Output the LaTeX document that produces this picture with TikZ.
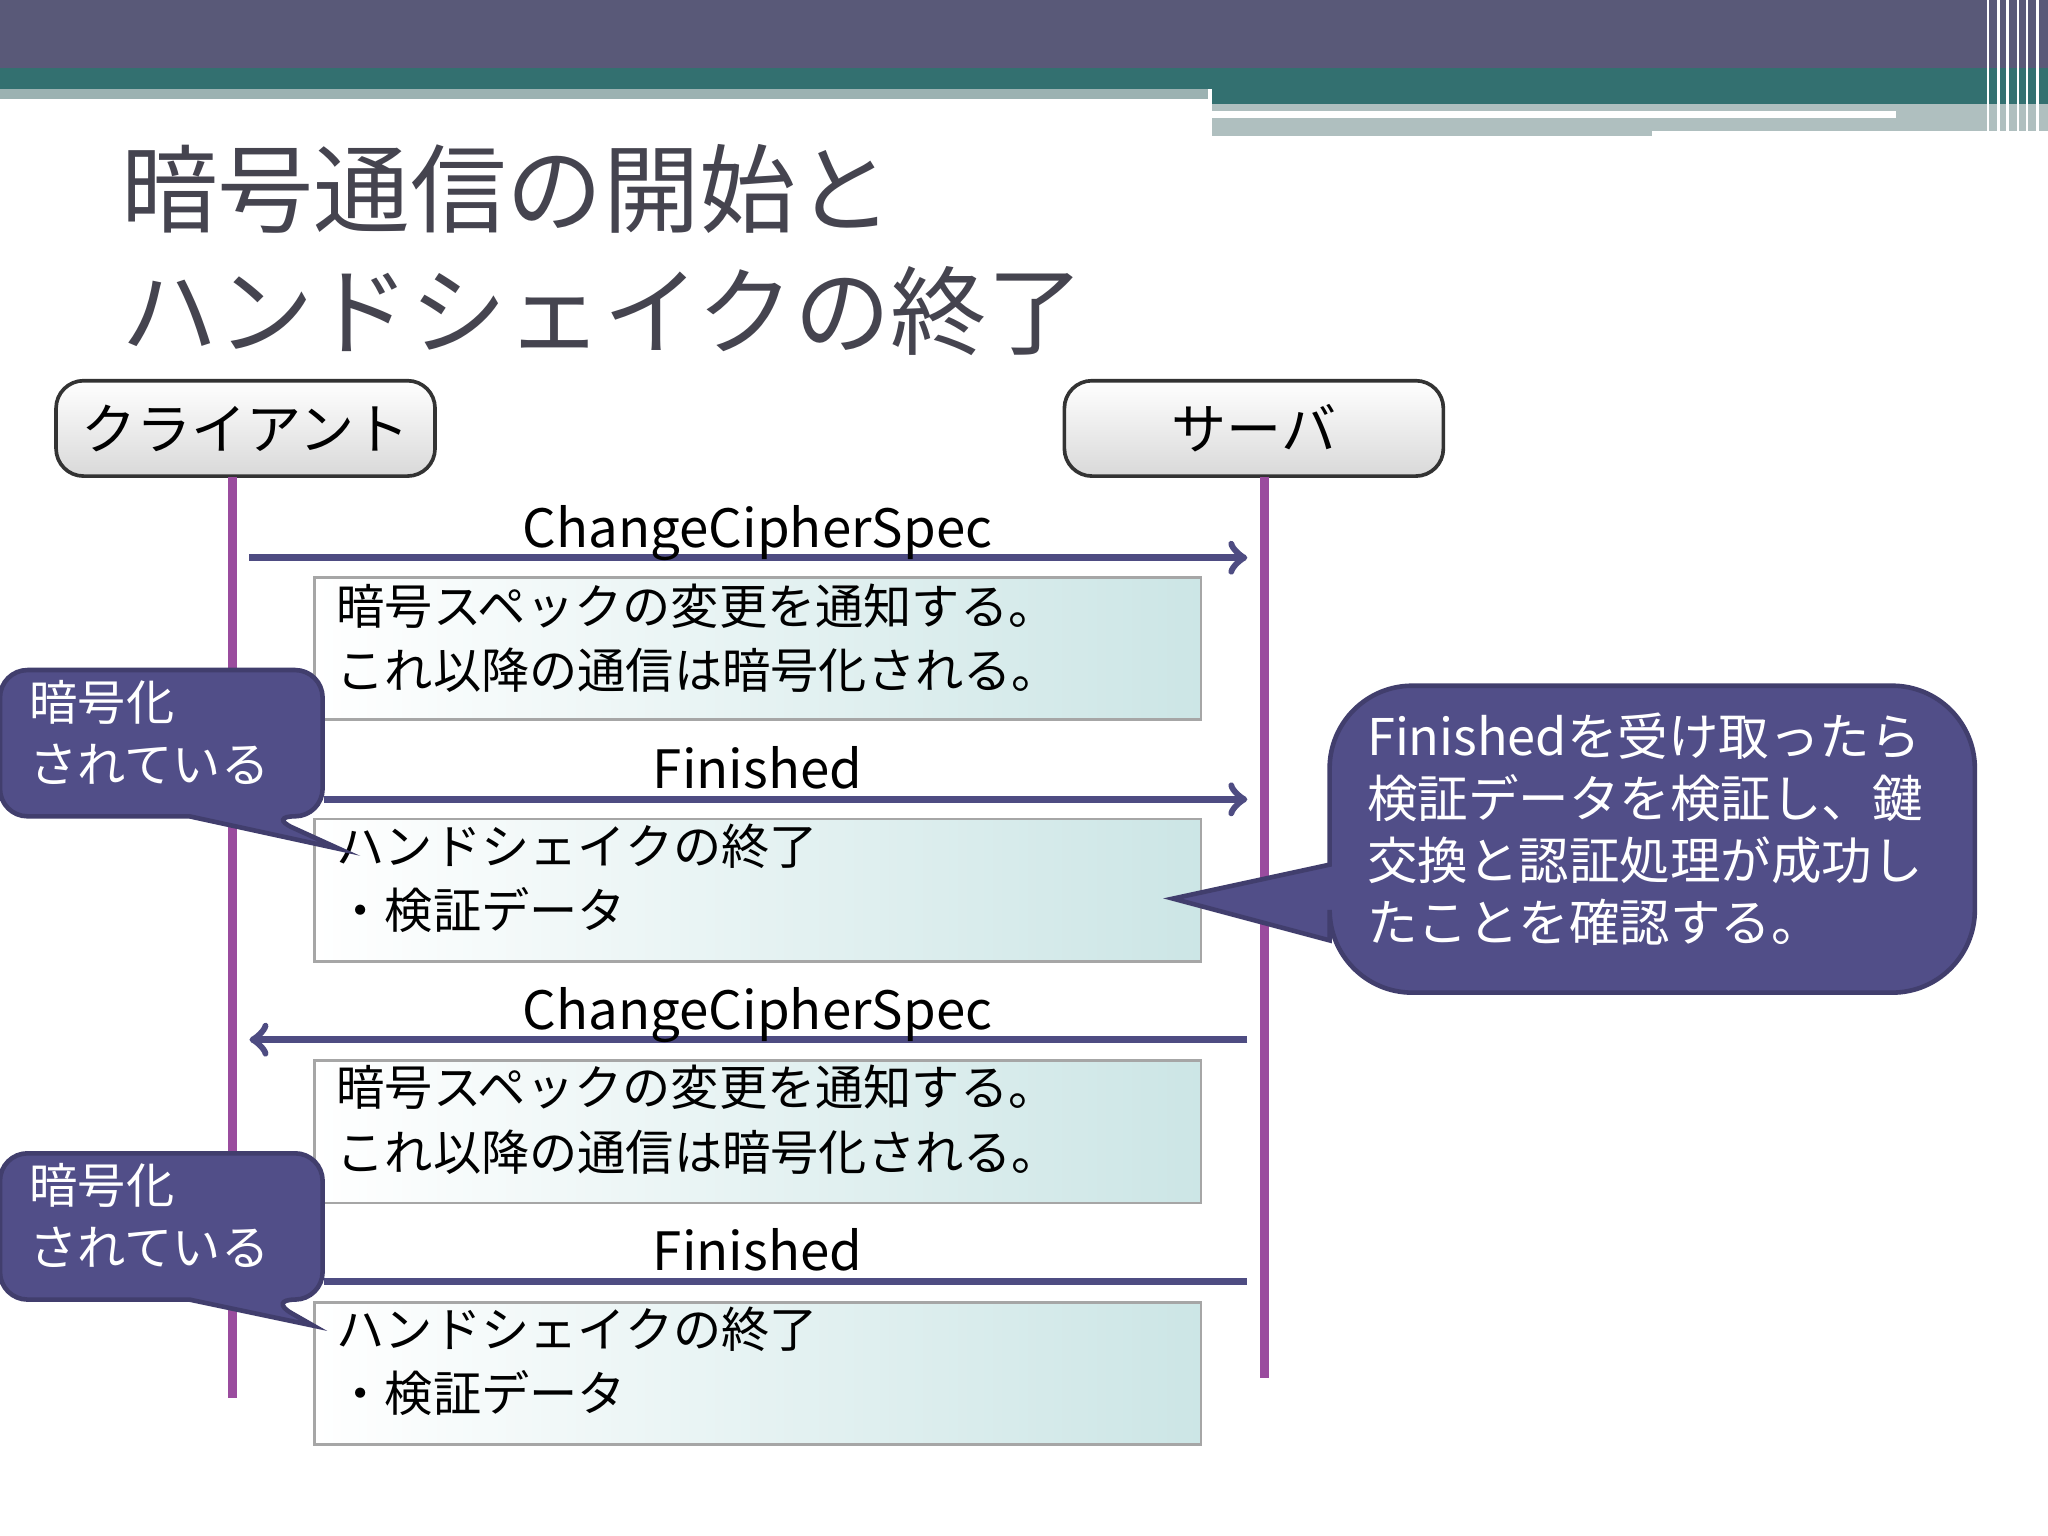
\documentclass[tikz,border=0pt]{standalone}
\usepackage{fontspec}
\setmainfont{Noto Sans CJK JP}
\definecolor{lifec}{HTML}{9A4C9E}
\definecolor{msgc}{HTML}{4E4C82}
\definecolor{callc}{HTML}{514E88}
\definecolor{titlec}{HTML}{45444F}
\begin{document}
\begin{tikzpicture}[x=0.01cm,y=-0.01cm,
  actor/.style={draw=black!80,line width=0.8pt,rounded corners=6pt,top color=white,bottom color=black!15,minimum width=2.9cm,minimum height=0.73cm},
  note/.style={draw=black!35,line width=0.6pt,left color=white,right color=teal!20,minimum width=6.78cm,minimum height=1.09cm,anchor=north west},
  life/.style={draw=lifec,line width=2pt},
  msg/.style={draw=msgc,line width=1.6pt},
  call/.style={fill=callc,draw=callc!80!black,line width=1pt,rounded corners=6pt},
  lbl/.style={font=\fontsize{11.5}{13}\selectfont,inner sep=1pt,anchor=base},
  ntext/.style={font=\fontsize{10.5}{14}\selectfont,align=left,anchor=north west,inner sep=0pt},
  ctext/.style={font=\fontsize{10.5}{13.5}\selectfont,align=left,anchor=north west,inner sep=0pt,text=white}]
\useasboundingbox (0,0) rectangle (1568,1176);
\fill[white] (0,0) rectangle (1568,1176);
% header
\fill[black!60!blue!30!gray] (0,0) rectangle (1568,52);
\fill[teal!60!black!80] (0,52) rectangle (1568,68);
\fill[teal!30!gray!60] (0,68) rectangle (925,76);
\fill[teal!60!black!80] (928,68) rectangle (1568,80);
\fill[teal!25!gray!50] (928,80) rectangle (1568,104);
\draw[white,line width=1.5pt] (928,88) -- (1452,88);
\fill[white] (1265,100) rectangle (1568,106);
\foreach \x in {1522,1530,1537,1545,1552,1560} \draw[white,line width=0.6pt] (\x,0) -- (\x,105);
% title
\node[anchor=north west,inner sep=0pt,text=titlec,font=\fontsize{21}{26.5}\selectfont,align=left] (title) at (92,110) {暗号通信の開始と\\ハンドシェイクの終了};
% actors
\node[actor,font=\fontsize{12}{14}\selectfont] (cli) at (188,328) {クライアント};
\node[actor,font=\fontsize{12}{14}\selectfont] (srv) at (960,328) {サーバ};
\coordinate (cb) at (178,1070); \coordinate (sb) at (968,1055);
\draw[life] (178,365) -- (cb);
\draw[life] (968,365) -- (sb);
% notes
\foreach \y/\n in {441/n1,626/n2,811/n3,996/n4} \node[note] (\n) at (240,\y) {};
\node[ntext] (t1) at (257,446) {暗号スペックの変更を通知する。\\これ以降の通信は暗号化される。};
\node[ntext] (t2) at (257,630) {ハンドシェイクの終了\\・検証データ};
\node[ntext] (t3) at (257,815) {暗号スペックの変更を通知する。\\これ以降の通信は暗号化される。};
\node[ntext] (t4) at (257,1000) {ハンドシェイクの終了\\・検証データ};
% messages
\coordinate (a1) at (191,427); \coordinate (b1) at (955,427);
\coordinate (a2) at (248,612); \coordinate (b2) at (955,612);
\coordinate (a3) at (191,796); \coordinate (b3) at (955,796);
\coordinate (a4) at (248,981); \coordinate (b4) at (955,981);
\draw[msg,->] (a1) -- (b1);
\draw[msg,->] (a2) -- (b2);
\draw[msg,->] (b3) -- (a3);
\draw[msg] (a4) -- (b4);
\node[lbl] (l1) at (580,419) {ChangeCipherSpec};
\node[lbl] (l2) at (580,604) {Finished};
\node[lbl] (l3) at (580,788) {ChangeCipherSpec};
\node[lbl] (l4) at (580,973) {Finished};
% callouts
\draw[call] (0,513) -- (247,513) -- (247,625) -- (205,625) [sharp corners] -- (260,650) -- (145,625) [rounded corners=6pt] -- (0,625) -- cycle;
\node[ctext] (c1) at (22,520) {暗号化\\されている};
\draw[call] (0,883) -- (247,883) -- (247,995) -- (205,995) [sharp corners] -- (240,1015) -- (145,995) [rounded corners=6pt] -- (0,995) -- cycle;
\node[ctext] (c2) at (22,890) {暗号化\\されている};
\draw[call,rounded corners=18pt] (1018,525) -- (1512,525) -- (1512,760) -- (1018,760) [sharp corners] -- (1018,720) -- (898,688) -- (1018,662) [rounded corners=18pt] -- cycle;
\node[ctext,font=\fontsize{11}{13.5}\selectfont] (c3) at (1046,545) {Finishedを受け取ったら\\検証データを検証し、鍵\\交換と認証処理が成功し\\たことを確認する。};
\end{tikzpicture}
\end{document}
